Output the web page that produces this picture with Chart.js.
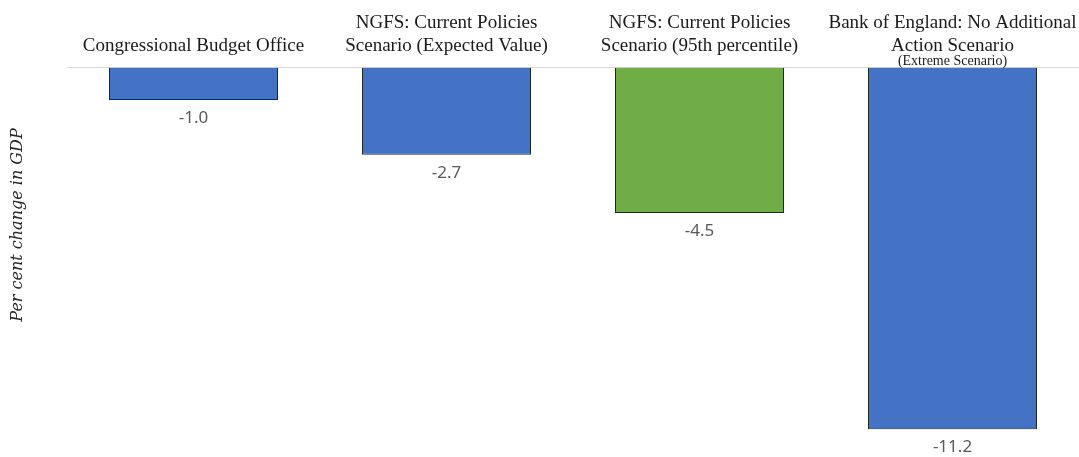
<!DOCTYPE html>
<html>
<head>
<meta charset="utf-8">
<script src="https://cdn.jsdelivr.net/npm/chart.js@4.4.1/dist/chart.umd.min.js"></script>
<style>
  html, body { margin: 0; padding: 0; background: #fff; }
  #wrap { position: relative; width: 1079px; height: 457px; }
</style>
</head>
<body>
<div id="wrap"><canvas id="gdpChart"></canvas></div>
<script>
// categories (two lines each, drawn as x tick labels at the top)
const categories = [
  ['', 'Congressional Budget Office'],
  ['NGFS: Current Policies', 'Scenario (Expected Value)'],
  ['NGFS: Current Policies', 'Scenario (95th percentile)'],
  ['Bank of England: No Additional', 'Action Scenario']
];
const subNotes = ['', '', '', '(Extreme Scenario)'];
const gdpChange = [-1.0, -2.7, -4.5, -11.2];
const barColors = ['#4472C4', '#4472C4', '#70AD47', '#4472C4'];
const yTitle = 'Per cent change in GDP';

// value labels under bars, sub-note under last category, y title
const labelPlugin = {
  id: 'valueLabels',
  afterDatasetsDraw(chart) {
    const ctx = chart.ctx;
    const meta = chart.getDatasetMeta(0);
    ctx.save();
    ctx.textAlign = 'center';
    ctx.textBaseline = 'middle';
    ctx.fillStyle = '#595959';
    ctx.font = '17px "Noto Sans", sans-serif';
    meta.data.forEach((bar, i) => {
      ctx.fillText(gdpChange[i].toFixed(1), bar.x, bar.y + 18);
    });
    ctx.fillStyle = '#1a1a1a';
    ctx.font = '14px "Liberation Serif", serif';
    meta.data.forEach((bar, i) => {
      if (subNotes[i]) ctx.fillText(subNotes[i], bar.x, chart.chartArea.top - 6);
    });
    // rotated y-axis title
    ctx.translate(18, 225);
    ctx.rotate(-Math.PI / 2);
    ctx.fillStyle = '#262626';
    ctx.font = 'italic 16px "DejaVu Serif", serif';
    ctx.fillText(yTitle, 0, 0);
    ctx.restore();
  }
};

new Chart(document.getElementById('gdpChart'), {
  type: 'bar',
  data: {
    labels: categories,
    datasets: [{
      data: gdpChange,
      backgroundColor: barColors,
      borderColor: '#1f2a1f',
      borderWidth: 1,
      categoryPercentage: 1,
      barPercentage: 0.668
    }]
  },
  options: {
    responsive: true,
    maintainAspectRatio: false,
    animation: false,
    layout: { padding: { left: 67, right: -10, top: 10, bottom: 2 } },
    plugins: {
      legend: { display: false },
      tooltip: { enabled: false }
    },
    scales: {
      x: {
        position: 'top',
        grid: { display: false },
        border: { display: true, color: '#d9d9d9', width: 1 },
        ticks: {
          color: '#1a1a1a',
          font: { family: '"Liberation Serif", serif', size: 19, lineHeight: 1.2 },
          maxRotation: 0,
          autoSkip: false,
          padding: 2
        }
      },
      y: {
        display: false,
        min: -12,
        max: 0
      }
    }
  },
  plugins: [labelPlugin]
});
</script>
</body>
</html>
